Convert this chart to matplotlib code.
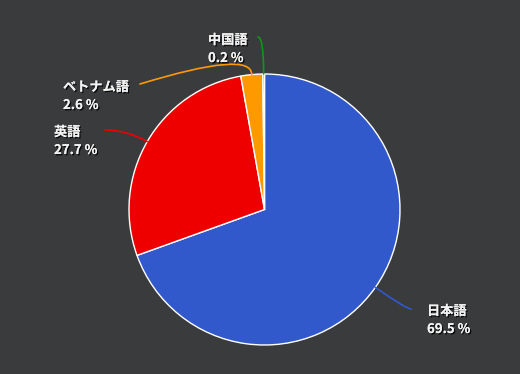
import numpy as np
import matplotlib
matplotlib.use("Agg")
from matplotlib import pyplot as plt
import matplotlib.patheffects as pe

plt.rcParams['font.family'] = ['Noto Sans CJK JP', 'DejaVu Sans']

languages = ['日本語', '英語', 'ベトナム語', '中国語']
shares = [69.5, 27.7, 2.6, 0.2]
colors = ['#3159cc', '#ee0000', '#ff9900', '#109618']

# label layout (pixels from top-left): text x, first line y, leader start, connection style
label_pos = [(427, 311), (54, 132), (63, 87), (208, 40)]
leader_start = [(411, 309), (105, 130), (140, 84), (258, 37)]
conn = ['angle3,angleA=0,angleB=-35', 'angle3,angleA=0,angleB=-30',
        'angle3,angleA=17,angleB=90', 'angle3,angleA=0,angleB=90']

W, H = 520, 374
bg = '#3a3b3d'
fig = plt.figure(figsize=(W / 100, H / 100), dpi=100, facecolor=bg)
ax = fig.add_axes([0, 0, 1, 1])
ax.set_facecolor(bg)
ax.set_xlim(0, W)
ax.set_ylim(0, H)
ax.axis('off')

cx, cy, r = 264.5, H - 209.5, 135.5
wedges, _ = ax.pie(shares, colors=colors, startangle=90, counterclock=False,
                   center=(cx, cy), radius=r, frame=True,
                   wedgeprops=dict(edgecolor='white', linewidth=1))
ax.set_xlim(0, W)
ax.set_ylim(0, H)
ax.set_aspect('auto')
ax.axis('off')

shadow = [pe.withSimplePatchShadow(offset=(1, -1), shadow_rgbFace='black', alpha=0.8), pe.Normal()]
for w, lang, v, c, (tx, ty), (lx, ly), cs in zip(wedges, languages, shares, colors,
                                                   label_pos, leader_start, conn):
    mid = np.deg2rad((w.theta1 + w.theta2) / 2)
    px, py = cx + r * np.cos(mid), cy + r * np.sin(mid)
    ax.annotate('', xy=(px, py), xytext=(lx, H - ly),
                arrowprops=dict(arrowstyle='-', color=c, lw=1.2, connectionstyle=cs,
                                shrinkA=0, shrinkB=0))
    ax.text(tx, H - ty, lang, color='#f2f2f2', fontsize=9.5, fontweight='bold',
            ha='left', va='center', path_effects=shadow)
    ax.text(tx, H - ty - 18, f"{v:.1f} %", color='#f2f2f2', fontsize=9.5, fontweight='bold',
            ha='left', va='center', path_effects=shadow)

fig.savefig('out.png', dpi=100, facecolor=bg)
